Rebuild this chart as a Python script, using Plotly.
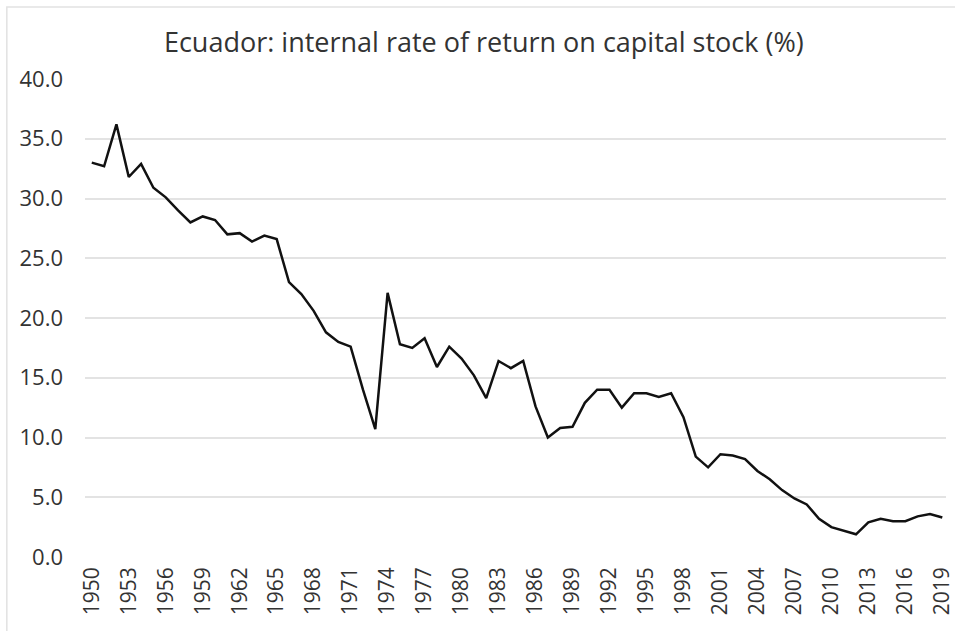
import plotly.graph_objects as go

years = list(range(1950, 2020))
irr = [33.0, 32.7, 36.2, 31.8, 32.9, 30.9, 30.1, 29.0, 28.0, 28.5,
       28.2, 27.0, 27.1, 26.4, 26.9, 26.6, 23.0, 22.0, 20.6, 18.8,
       18.0, 17.6, 14.0, 10.7, 22.1, 17.8, 17.5, 18.3, 15.9, 17.6,
       16.6, 15.2, 13.3, 16.4, 15.8, 16.4, 12.6, 10.0, 10.8, 10.9,
       12.9, 14.0, 14.0, 12.5, 13.7, 13.7, 13.4, 13.7, 11.7, 8.4,
       7.5, 8.6, 8.5, 8.2, 7.2, 6.5, 5.6, 4.9, 4.4, 3.2,
       2.5, 2.2, 1.9, 2.9, 3.2, 3.0, 3.0, 3.4, 3.6, 3.3]
y_ticks = [0, 5, 10, 15, 20, 25, 30, 35, 40]
x_ticks = years[::3]
title_text = "Ecuador: internal rate of return on capital stock (%)"

FONT = "Open Sans"
W, H = 955, 631
L, R, T, B = 85, 0, 79, 74
pw, ph = W - L - R, H - T - B

fig = go.Figure()
fig.add_trace(go.Scatter(
    x=years, y=irr, mode="lines",
    line=dict(color="#111111", width=2.5),
    hoverinfo="x+y", showlegend=False, cliponaxis=False,
))

# faint chart-area frame (top and left edges visible in the reference)
fig.add_shape(type="rect", xref="paper", yref="paper",
              x0=(6 - L) / pw, x1=(W + 20 - L) / pw,
              y0=(T + ph - (H + 20)) / ph, y1=(T + ph - 7) / ph,
              line=dict(color="#e2e2e2", width=1.5), layer="below")

fig.update_layout(
    width=W, height=H,
    margin=dict(l=L, r=R, t=T, b=B),
    paper_bgcolor="white", plot_bgcolor="white",
    title=dict(text=title_text, x=(488 - L) / pw, xref="paper", xanchor="center",
               y=1 - 43 / H, yanchor="middle",
               font=dict(family=FONT, size=27, color="#333333")),
    font=dict(family=FONT, color="#333333"),
    xaxis=dict(
        range=[1949.45, 2019.3],
        tickmode="array", tickvals=x_ticks, ticktext=[str(v) for v in x_ticks],
        tickangle=-90, tickfont=dict(size=21, color="#333333"),
        ticklabeloverflow="allow",
        showgrid=False, zeroline=False, showline=False, ticks="",
        ticklabelstandoff=5,
    ),
    yaxis=dict(
        range=[0, 40],
        tickmode="array", tickvals=y_ticks, ticktext=[f"{v:.1f}" for v in y_ticks],
        tickfont=dict(size=22, color="#333333"),
        showgrid=True, gridcolor="#e3e3e3", gridwidth=1.5,
        zeroline=False, showline=False, ticks="",
        ticklabelstandoff=21,
    ),
)

fig.write_html("out.html", config={"displayModeBar": False},
               post_script="document.body.style.margin='0';")
